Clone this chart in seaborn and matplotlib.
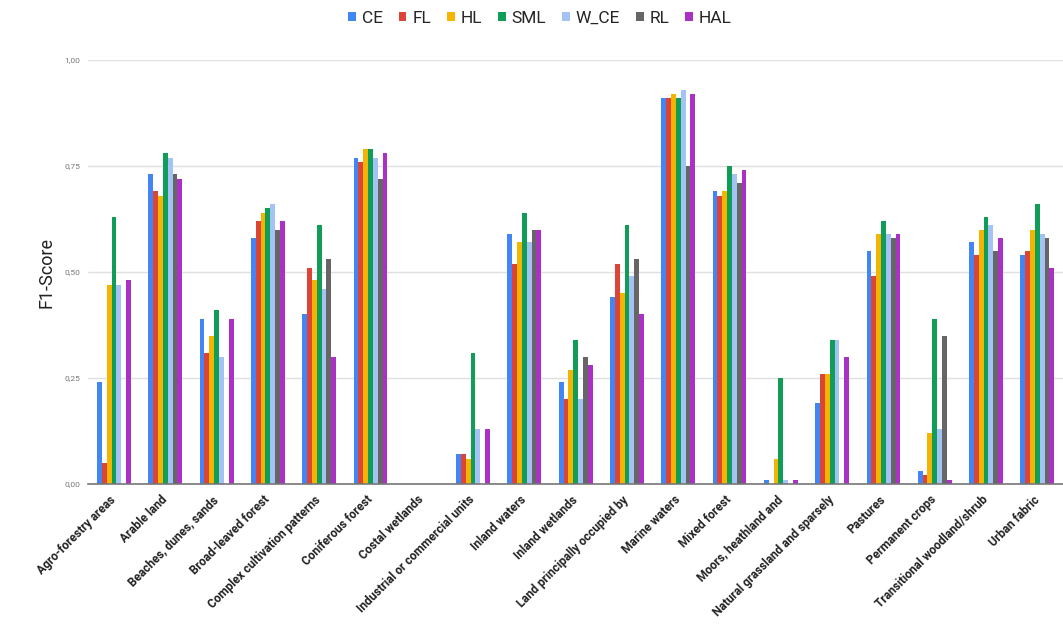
import matplotlib
matplotlib.use("Agg")
import matplotlib.pyplot as plt
import seaborn as sns
import pandas as pd
from matplotlib.ticker import FixedLocator, FuncFormatter

categories = [
    "Agro-forestry areas", "Arable land", "Beaches, dunes, sands",
    "Broad-leaved forest", "Complex cultivation patterns", "Coniferous forest",
    "Costal wetlands", "Industrial or commercial units", "Inland waters",
    "Inland wetlands", "Land principally occupied by", "Marine waters",
    "Mixed forest", "Moors, heathland and", "Natural grassland and sparsely",
    "Pastures", "Permanent crops", "Transitional woodland/shrub", "Urban fabric",
]

models = ["CE", "FL", "HL", "SML", "W_CE", "RL", "HAL"]

ce   = [0.24, 0.73, 0.39, 0.58, 0.40, 0.77, 0.00, 0.07, 0.59, 0.24, 0.44, 0.91, 0.69, 0.01, 0.19, 0.55, 0.03, 0.57, 0.54]
fl   = [0.05, 0.69, 0.31, 0.62, 0.51, 0.76, 0.00, 0.07, 0.52, 0.20, 0.52, 0.91, 0.68, 0.00, 0.26, 0.49, 0.02, 0.54, 0.55]
hl   = [0.47, 0.68, 0.35, 0.64, 0.48, 0.79, 0.00, 0.06, 0.57, 0.27, 0.45, 0.92, 0.69, 0.06, 0.26, 0.59, 0.12, 0.60, 0.60]
sml  = [0.63, 0.78, 0.41, 0.65, 0.61, 0.79, 0.00, 0.31, 0.64, 0.34, 0.61, 0.91, 0.75, 0.25, 0.34, 0.62, 0.39, 0.63, 0.66]
w_ce = [0.47, 0.77, 0.30, 0.66, 0.46, 0.77, 0.00, 0.13, 0.57, 0.20, 0.49, 0.93, 0.73, 0.01, 0.34, 0.59, 0.13, 0.61, 0.59]
rl   = [0.00, 0.73, 0.00, 0.60, 0.53, 0.72, 0.00, 0.00, 0.60, 0.30, 0.53, 0.75, 0.71, 0.00, 0.00, 0.58, 0.35, 0.55, 0.58]
hal  = [0.48, 0.72, 0.39, 0.62, 0.30, 0.78, 0.00, 0.13, 0.60, 0.28, 0.40, 0.92, 0.74, 0.01, 0.30, 0.59, 0.01, 0.58, 0.51]

colors = ["#4285F4", "#DB4437", "#F4B400", "#0F9D58", "#A4C2F4", "#666666", "#AB30C4"]

y_ticks = [0.0, 0.25, 0.5, 0.75, 1.0]

series = [ce, fl, hl, sml, w_ce, rl, hal]
rows = []
for name, vals in zip(models, series):
    for cat, v in zip(categories, vals):
        rows.append({"Category": cat, "Model": name, "F1": v})
df = pd.DataFrame(rows)

sns.set_style("white")
plt.rcParams["font.family"] = ["Roboto", "DejaVu Sans"]

fig = plt.figure(figsize=(10.63, 6.24), dpi=100)
ax = fig.add_axes([0.0831, 0.2244, 0.9169, 0.6794])

sns.barplot(data=df, x="Category", y="F1", hue="Model", order=categories,
            hue_order=models, palette=colors, width=0.66, dodge=True,
            saturation=1, ax=ax, legend=True, linewidth=0)

ax.set_ylim(0, 1.0)
ax.set_xlim(-0.5, len(categories) - 0.5)
ax.yaxis.set_major_locator(FixedLocator(y_ticks))
ax.yaxis.set_major_formatter(FuncFormatter(lambda v, p: f"{v:.2f}".replace(".", ",")))
ax.grid(axis="y", color="#e0e0e0", linewidth=1)
ax.set_axisbelow(True)
for s in ["top", "right", "left"]:
    ax.spines[s].set_visible(False)
ax.spines["bottom"].set_color("#777777")
ax.spines["bottom"].set_linewidth(1.2)
ax.tick_params(axis="y", length=0, labelsize=6, labelcolor="#777777", pad=6)
ax.tick_params(axis="x", length=0, pad=10)
ax.set_xticks(range(len(categories)))
ax.set_xticklabels(categories, rotation=45, ha="right", va="center",
                   rotation_mode="anchor", fontsize=8.6, fontweight="bold",
                   color="#222222")
ax.set_xlabel("")
ax.set_ylabel("F1-Score", fontsize=13, color="#222222", labelpad=6)

handles, labels = ax.get_legend_handles_labels()
ax.legend_.remove()
fig.legend(handles, labels, loc="center", bbox_to_anchor=(0.508, 0.971),
           ncol=7, frameon=False, fontsize=12.5, handlelength=0.45, handleheight=0.45,
           handletextpad=0.35, columnspacing=0.9)

fig.savefig("out.png", dpi=100)
